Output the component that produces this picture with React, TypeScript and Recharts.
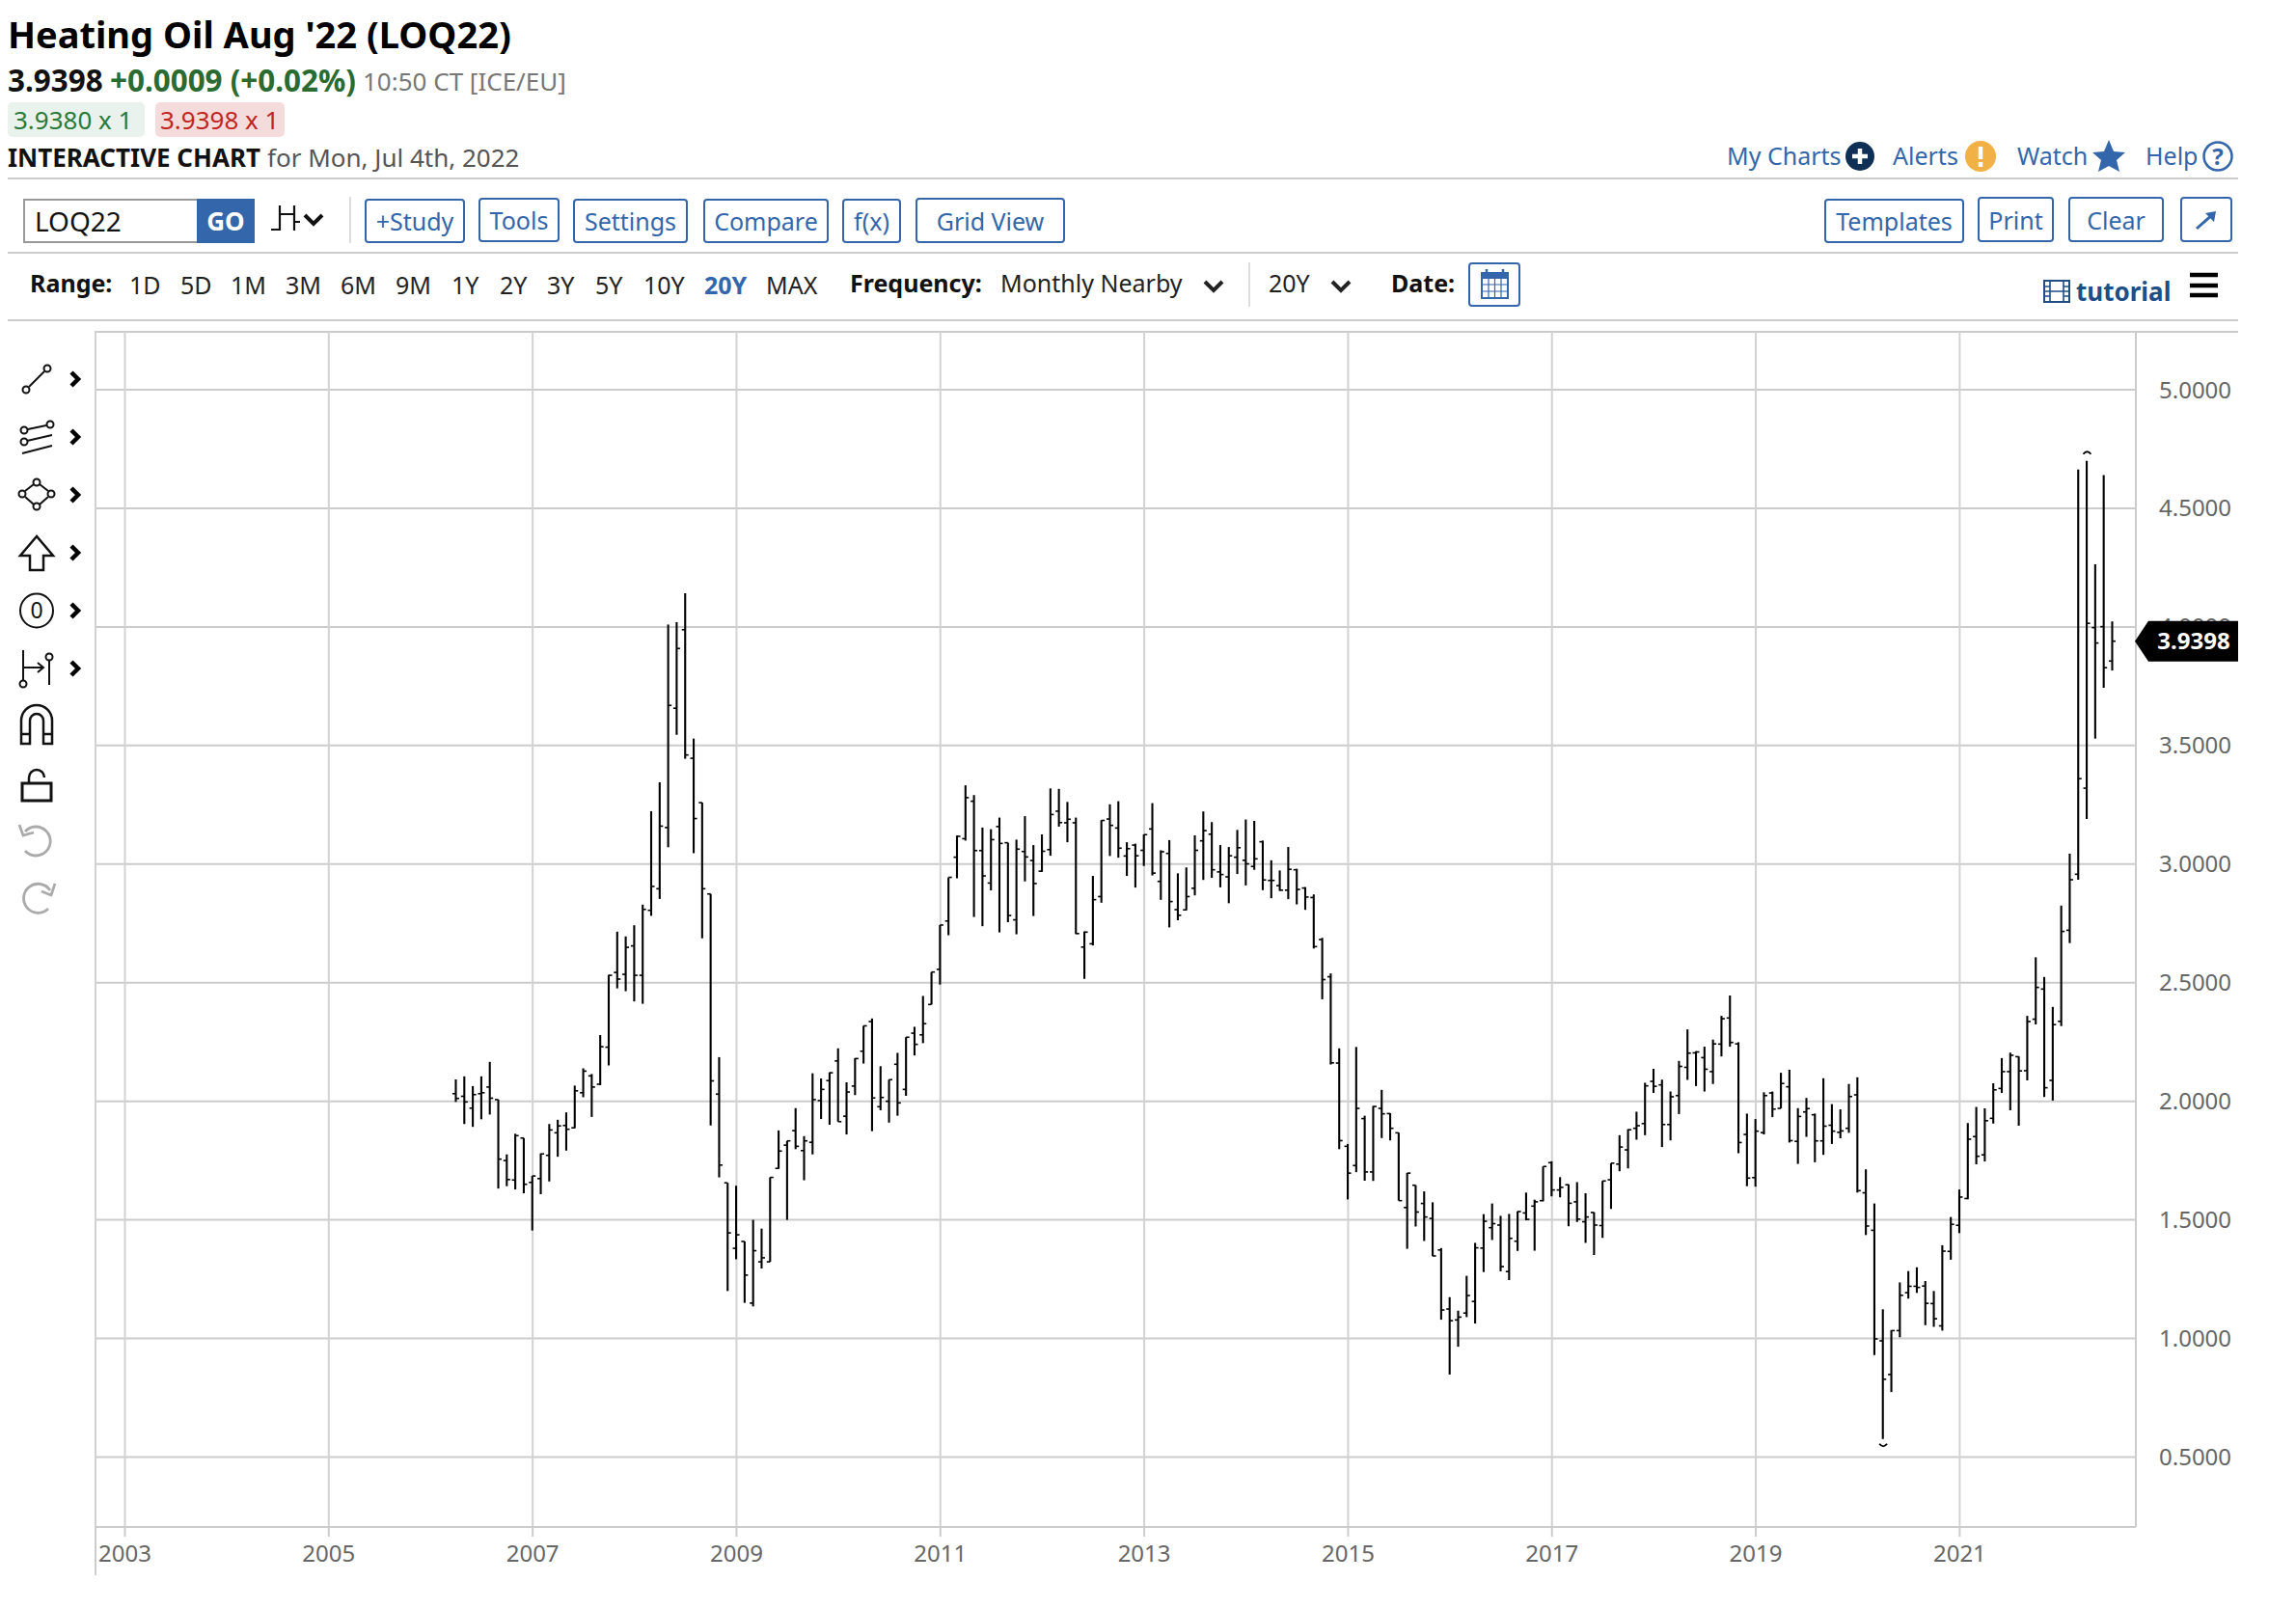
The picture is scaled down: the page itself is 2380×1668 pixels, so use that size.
import React from "react";
import { ComposedChart, Bar, XAxis, YAxis, CartesianGrid, ReferenceDot } from "recharts";

// Monthly bars, Apr 2006 .. Jul 2022. Month index counts from Jan 2003.
const firstMonthIndex = 39;
const opens = [
  2.032,2.021,1.971,2.032,2.060,2.007,1.750,1.668,1.845,
  1.658,1.674,1.772,1.867,1.898,1.888,2.036,2.107,2.072,2.228,2.543,2.535,
  2.655,2.531,2.805,2.896,3.154,3.657,3.988,3.446,3.259,2.874,2.030,1.656,
  1.380,1.409,1.149,1.323,1.323,1.717,1.815,1.876,1.792,1.827,2.003,2.087,
  2.170,1.937,2.064,2.211,2.336,1.977,2.000,2.156,2.050,2.287,2.280,2.408,
  2.556,2.760,3.029,3.107,3.265,3.057,2.920,3.158,3.090,2.765,3.053,3.015,
  2.970,3.061,3.223,3.174,3.174,2.650,2.664,2.863,3.190,3.152,3.034,3.080,
  3.058,3.148,2.927,3.045,2.808,2.807,2.898,3.098,3.126,2.967,2.946,3.029,
  3.016,2.990,3.094,2.931,2.909,2.890,2.976,2.899,2.859,2.682,2.525,2.161,
  1.810,1.729,1.927,1.702,1.970,1.948,1.867,1.552,1.646,1.569,1.506,1.373,
  1.124,1.078,1.107,1.156,1.381,1.467,1.478,1.282,1.410,1.529,1.558,1.581,
  1.741,1.626,1.648,1.576,1.492,1.531,1.476,1.669,1.735,1.795,1.886,1.906,
  2.084,2.069,1.902,2.024,2.143,2.204,2.184,2.125,2.241,2.351,2.242,1.860,
  1.678,1.868,2.035,1.970,2.061,1.831,1.955,1.943,1.833,1.899,1.869,1.886,
  2.027,1.614,1.456,0.990,0.848,1.033,1.193,1.220,1.221,1.147,1.053,1.367,
  1.477,1.590,1.851,1.774,1.928,2.054,2.125,2.188,2.129,2.346,2.473,2.088,
  2.337,2.721,2.957,3.320,3.997,4.001,3.856,
];
const highs = [
  2.092,2.105,2.064,2.105,2.166,2.007,1.776,1.863,1.845,
  1.685,1.780,1.904,1.922,1.953,2.066,2.139,2.115,2.279,2.533,2.715,2.695,
  2.742,2.829,3.223,3.345,4.010,4.020,4.142,3.529,3.259,2.874,2.186,1.656,
  1.644,1.409,1.500,1.463,1.679,1.877,1.833,1.971,1.853,2.118,2.096,2.122,
  2.223,2.080,2.182,2.318,2.349,2.148,2.091,2.204,2.270,2.314,2.444,2.545,
  2.743,2.944,3.120,3.332,3.291,3.154,3.147,3.196,3.090,3.103,3.202,3.080,
  3.125,3.319,3.317,3.262,3.196,2.716,2.950,3.185,3.252,3.265,3.092,3.086,
  3.125,3.257,3.058,3.101,2.961,2.986,3.121,3.222,3.177,3.080,3.072,3.144,
  3.188,3.182,3.099,3.016,2.973,3.072,2.980,2.903,2.872,2.689,2.539,2.223,
  1.820,2.229,1.939,1.980,2.048,1.950,1.868,1.698,1.646,1.620,1.574,1.381,
  1.174,1.117,1.264,1.403,1.524,1.569,1.517,1.525,1.536,1.615,1.585,1.725,
  1.747,1.680,1.650,1.659,1.612,1.532,1.664,1.739,1.857,1.882,1.956,2.078,
  2.137,2.091,2.041,2.170,2.303,2.211,2.230,2.260,2.360,2.446,2.249,1.948,
  1.925,2.038,2.041,2.120,2.133,1.971,2.014,1.948,2.097,1.988,1.966,2.073,
  2.101,1.713,1.569,1.123,1.035,1.236,1.284,1.300,1.242,1.200,1.393,1.512,
  1.628,1.908,1.976,1.970,2.076,2.182,2.205,2.189,2.360,2.607,2.524,2.398,
  2.825,3.044,4.663,4.700,4.264,4.640,4.023,
];
const lows = [
  1.997,1.904,1.892,1.924,1.944,1.632,1.642,1.628,1.612,
  1.455,1.608,1.662,1.766,1.792,1.886,2.017,1.934,2.068,2.151,2.476,2.464,
  2.421,2.411,2.782,2.853,3.071,3.545,3.444,3.046,2.687,1.898,1.679,1.200,
  1.334,1.150,1.135,1.295,1.323,1.715,1.500,1.798,1.667,1.776,1.925,1.901,
  1.914,1.860,2.026,2.159,1.874,1.962,1.910,1.939,2.023,2.193,2.245,2.408,
  2.492,2.700,2.940,3.099,2.777,2.738,2.889,2.712,2.755,2.704,2.927,2.781,
  2.967,3.035,3.158,3.092,2.705,2.516,2.657,2.837,3.034,3.027,2.950,2.901,
  2.992,2.952,2.849,2.733,2.763,2.805,2.868,2.933,2.942,2.902,2.835,2.958,
  2.910,2.976,2.890,2.856,2.887,2.852,2.830,2.807,2.644,2.430,2.155,1.798,
  1.586,1.701,1.665,1.664,1.845,1.835,1.581,1.378,1.472,1.411,1.347,1.079,
  0.848,0.965,1.090,1.063,1.280,1.415,1.283,1.246,1.369,1.498,1.370,1.578,
  1.599,1.595,1.473,1.491,1.403,1.352,1.424,1.546,1.705,1.717,1.838,1.857,
  2.035,1.807,1.835,1.946,2.090,2.064,2.041,2.073,2.189,2.230,1.781,1.642,
  1.640,1.860,1.933,1.970,1.826,1.736,1.850,1.743,1.774,1.820,1.844,1.867,
  1.615,1.436,0.930,0.576,0.774,1.005,1.168,1.192,1.056,1.049,1.033,1.332,
  1.444,1.587,1.734,1.746,1.906,2.035,1.962,1.897,2.088,2.324,2.018,2.003,
  2.317,2.667,2.934,3.190,3.529,3.743,3.816,
];
const closes = [
  2.012,1.997,2.028,2.036,2.013,1.756,1.670,1.855,1.650,
  1.685,1.778,1.879,1.896,1.882,2.044,2.127,2.060,2.230,2.531,2.515,2.649,
  2.531,2.809,2.906,3.160,3.669,3.909,3.460,3.192,2.896,2.086,1.731,1.445,
  1.437,1.267,1.370,1.340,1.679,1.790,1.833,1.810,1.833,2.007,2.050,2.120,
  1.914,2.039,2.180,2.318,2.014,2.016,2.091,1.993,2.270,2.240,2.327,2.545,
  2.743,2.944,3.117,3.280,3.057,2.950,3.103,3.087,2.783,3.063,3.030,2.918,
  3.054,3.209,3.175,3.189,2.707,2.713,2.850,3.184,3.163,3.067,3.065,3.035,
  3.124,2.962,3.052,2.842,2.784,2.863,3.058,3.141,2.976,2.956,3.035,3.069,
  3.001,3.022,2.933,2.931,2.890,2.978,2.893,2.861,2.652,2.513,2.162,1.834,
  1.697,1.970,1.702,1.978,1.947,1.886,1.581,1.697,1.533,1.512,1.348,1.120,
  1.075,1.090,1.181,1.382,1.494,1.484,1.303,1.422,1.535,1.502,1.576,1.725,
  1.626,1.637,1.570,1.503,1.512,1.478,1.664,1.739,1.807,1.880,1.897,2.065,
  2.063,1.902,2.019,2.147,2.203,2.208,2.135,2.242,2.348,2.248,1.826,1.676,
  1.874,2.024,1.967,2.075,1.834,1.936,1.969,1.833,1.895,1.874,1.875,2.020,
  1.623,1.474,0.998,0.828,1.033,1.182,1.220,1.215,1.148,1.083,1.368,1.481,
  1.596,1.840,1.768,1.918,2.048,2.125,2.194,2.128,2.336,2.480,2.057,2.323,
  2.716,2.934,3.360,4.015,3.932,3.828,3.9398,
];
const yearLabels = [2003,2005,2007,2009,2011,2013,2015,2017,2019,2021];
const priceTicks = [0.5,1,1.5,2,2.5,3,3.5,4,4.5,5];
const lastPrice = 3.9398;
const rangeItems = ["1D","5D","1M","3M","6M","9M","1Y","2Y","3Y","5Y","10Y","20Y","MAX"];
const highMonth = 231;
const lowMonth = 207;
const xDomain = [-3.464, 236.74];
const yDomain = [0.205, 5.244];

const bars = opens.map((o, i) => ({
  m: firstMonthIndex + i,
  o,
  h: highs[i],
  l: lows[i],
  c: closes[i],
  range: [lows[i], highs[i]],
}));

const FONT = "'Noto Sans', sans-serif";
const BLUE = "#3366aa";
const LINE = "#cccccc";

function OhlcBar(props: any) {
  const { x, y, width, height, payload } = props;
  const cx = x + width / 2;
  const span = payload.h - payload.l;
  const yOf = (v: number) => (span > 0 ? y + ((payload.h - v) / span) * height : y);
  const yo = yOf(payload.o);
  const yc = yOf(payload.c);
  return (
    <g>
      <line x1={cx} x2={cx} y1={y} y2={y + height} stroke="#000" strokeWidth={2.1} />
      <line x1={cx - 3.5} x2={cx} y1={yo} y2={yo} stroke="#000" strokeWidth={1.6} />
      <line x1={cx} x2={cx + 3.5} y1={yc} y2={yc} stroke="#000" strokeWidth={1.6} />
    </g>
  );
}

function PriceTag(props: any) {
  const { cy } = props;
  const left = 2213;
  return (
    <g>
      <polygon
        points={`${left},${cy} ${left + 14},${cy - 21} ${left + 107},${cy - 21} ${left + 107},${cy + 21} ${left + 14},${cy + 21}`}
        fill="#000"
      />
      <text x={left + 61} y={cy + 8} textAnchor="middle" fontFamily={FONT} fontWeight={700} fontSize={24} fill="#fff">
        {lastPrice.toFixed(4)}
      </text>
    </g>
  );
}

const HighMark = (props: any) => (
  <path d={`M${props.cx - 4},${props.cy - 7} Q${props.cx},${props.cy - 12} ${props.cx + 4},${props.cy - 7}`} fill="none" stroke="#000" strokeWidth={1.8} />
);
const LowMark = (props: any) => (
  <path d={`M${props.cx - 4},${props.cy + 5} Q${props.cx},${props.cy + 10} ${props.cx + 4},${props.cy + 5}`} fill="none" stroke="#000" strokeWidth={1.8} />
);

function T({ x, y, children, size = 25, color = "#111", bold = false, style = {} }: any) {
  return (
    <div
      style={{
        position: "absolute",
        left: x,
        top: y,
        transform: "translateY(-50%)",
        fontFamily: FONT,
        fontSize: size,
        lineHeight: 1,
        color,
        fontWeight: bold ? 700 : 400,
        whiteSpace: "nowrap",
        ...style,
      }}
    >
      {children}
    </div>
  );
}

function Btn({ x, x2, y = 206, y2 = 252, label }: any) {
  return (
    <div
      style={{
        position: "absolute",
        left: x,
        top: y,
        width: x2 - x,
        height: y2 - y,
        boxSizing: "border-box",
        border: `2px solid ${BLUE}`,
        borderRadius: 4,
        color: BLUE,
        fontFamily: FONT,
        fontSize: 25,
        lineHeight: `${y2 - y - 3}px`,
        textAlign: "center",
        whiteSpace: "nowrap",
      }}
    >
      {label}
    </div>
  );
}

const Rule = ({ y, x = 8, x2 = 2320 }: any) => (
  <div style={{ position: "absolute", left: x, top: y - 1, width: x2 - x, height: 2, background: LINE }} />
);

function Chevron({ cx, cy, color = "#111" }: any) {
  return (
    <svg style={{ position: "absolute", left: cx - 10, top: cy - 8, overflow: "visible" }} width={20} height={16}>
      <path d="M1,3 L10,12 L19,3" fill="none" stroke={color} strokeWidth={4} />
    </svg>
  );
}

function SideTools() {
  const k = { fill: "none", stroke: "#111", strokeWidth: 2 };
  const chev = (y: number) => <path d={`M74,${y - 7} L81,${y} L74,${y + 7}`} fill="none" stroke="#000" strokeWidth={4.5} />;
  return (
    <svg style={{ position: "absolute", left: 0, top: 340 }} width={98} height={620}>
      <g {...k}>
        <circle cx={27} cy={64} r={3.5} /><circle cx={49} cy={42} r={3.5} /><path d="M30,61 L46,45" />
      </g>
      {chev(53)}
      <g {...k}>
        <circle cx={25} cy={106} r={3.5} /><circle cx={25} cy={118} r={3.5} /><circle cx={52} cy={100} r={3.5} />
        <path d="M29,105 L48,101 M28,117 L54,111 M23,130 L54,122" />
      </g>
      {chev(113)}
      <g {...k}>
        <circle cx={38} cy={160} r={3.5} /><circle cx={23} cy={172} r={3.5} /><circle cx={53} cy={172} r={3.5} /><circle cx={38} cy={185} r={3.5} />
        <path d="M26,169 L35,162 M41,162 L50,169 M26,175 L35,183 M41,183 L50,175" />
      </g>
      {chev(173)}
      <path d="M38,216 L21,236 L31,236 L31,251 L45,251 L45,236 L55,236 Z" {...k} strokeWidth={2.5} />
      {chev(233)}
      <ellipse cx={38} cy={293} rx={17} ry={17.5} {...k} />
      <text x={38} y={301} textAnchor="middle" fontFamily={FONT} fontSize={23} fill="#111">0</text>
      {chev(293)}
      <g {...k}>
        <path d="M24,334 L24,366 M24,352 L44,352 M39,347 L45,352 L39,357 M51,345 L51,370" />
        <circle cx={24} cy={369} r={3.5} /><circle cx={51} cy={341} r={3.5} />
      </g>
      {chev(353)}
      <path d="M22,431 L22,407 A16,16 0 0 1 54,407 L54,431 L45,431 L45,407 A7,7 0 0 0 31,407 L31,431 Z M22,421 L31,421 M45,421 L54,421" {...k} strokeWidth={2.5} />
      <path d="M23,472 L53,472 L53,490 L23,490 Z" {...k} strokeWidth={3} />
      <path d="M30,472 L30,466 A8,8 0 0 1 46,466" {...k} strokeWidth={2.5} />
      <g fill="none" stroke="#aaa" strokeWidth={2.8}>
        <path d="M26,522 A15,15 0 1 1 26,542" /><path d="M20,515 L24,526 L35,523" />
        <path d="M52,583 A15,15 0 1 0 50,602" /><path d="M57,576 L53,588 L43,584" />
      </g>
    </svg>
  );
}

function TopIcons() {
  return (
    <svg style={{ position: "absolute", left: 0, top: 0 }} width={2380} height={340}>
      {/* bar-type selector */}
      <path d="M290,213 L290,239 M281,238 L290,238 M290,222 L297,222 M305,213 L305,239 M297,222 L305,222 M305,230 L311,230" stroke="#111" strokeWidth={2.2} fill="none" />
      <circle cx={1928} cy={162} r={15} fill="#0f2f55" />
      <path d="M1928,154 L1928,170 M1920,162 L1936,162" stroke="#fff" strokeWidth={4.5} />
      <circle cx={2053} cy={162} r={16} fill="#f2b144" />
      <path d="M2053,152 L2053,165 M2053,168 L2053,173" stroke="#fff" strokeWidth={4.5} />
      <polygon points="2186,145 2191,157 2203,158 2194,166 2197,178 2186,172 2175,178 2178,166 2169,158 2181,157" fill={BLUE} />
      <circle cx={2299} cy={162} r={14.5} fill="none" stroke={BLUE} strokeWidth={2.5} />
      <text x={2299} y={171} textAnchor="middle" fontFamily={FONT} fontSize={24} fontWeight={700} fill={BLUE}>?</text>
      <path d="M2277,237 L2294,222" stroke={BLUE} strokeWidth={3} fill="none" />
      <polygon points="2297,219 2286,221 2295,230" fill={BLUE} />
      {/* calendar */}
      <rect x={1536} y={283} width={27} height={26} fill="#fff" stroke={BLUE} strokeWidth={2} />
      <rect x={1536} y={283} width={27} height={6} fill={BLUE} />
      <path d="M1541,279 L1541,285 M1558,279 L1558,285" stroke={BLUE} strokeWidth={2.5} />
      <path d="M1536,295 L1563,295 M1536,302 L1563,302 M1543,289 L1543,309 M1549.5,289 L1549.5,309 M1556,289 L1556,309" stroke={BLUE} strokeWidth={1.2} />
      {/* film */}
      <rect x={2119} y={291} width={26} height={22} fill="none" stroke="#1f4e85" strokeWidth={2} />
      <path d="M2125,291 L2125,313 M2139,291 L2139,313 M2125,302 L2139,302 M2119,297 L2125,297 M2119,302 L2125,302 M2119,307 L2125,307 M2139,297 L2145,297 M2139,302 L2145,302 M2139,307 L2145,307" stroke="#1f4e85" strokeWidth={1.6} />
      {/* menu */}
      <path d="M2270,285 L2299,285 M2270,296 L2299,296 M2270,306 L2299,306" stroke="#000" strokeWidth={4.5} />
    </svg>
  );
}

const rangeLefts = [134,187,239,296,353,410,468,518,567,617,667,730,794];

export default function App() {
  return (
    <div style={{ position: "absolute", left: 0, top: 0, width: 2380, height: 1668, background: "#fff", overflow: "hidden" }}>
      <T x={8} y={35} size={38} bold color="#000">Heating Oil Aug '22 (LOQ22)</T>
      <T x={8} y={83} size={31.4} bold color="#111">3.9398</T>
      <T x={114} y={83} size={31.4} bold color="#2a6b33">+0.0009 (+0.02%)</T>
      <T x={376} y={84} size={26} color="#777">10:50 CT [ICE/EU]</T>
      <div style={{ position: "absolute", left: 8, top: 106, width: 142, height: 36, background: "#e9f2ec", borderRadius: 5 }} />
      <div style={{ position: "absolute", left: 161, top: 106, width: 134, height: 36, background: "#f5dcdc", borderRadius: 5 }} />
      <T x={14} y={124} size={26} color="#2a7a38">3.9380 x 1</T>
      <T x={166} y={124} size={26} color="#c0261f">3.9398 x 1</T>
      <T x={8} y={163} size={26} bold color="#111">INTERACTIVE CHART</T>
      <T x={277} y={163} size={26} color="#555">for Mon, Jul 4th, 2022</T>

      <T x={1790} y={161} color={BLUE}>My Charts</T>
      <T x={1962} y={161} color={BLUE}>Alerts</T>
      <T x={2091} y={161} color={BLUE}>Watch</T>
      <T x={2224} y={161} color={BLUE}>Help</T>

      <Rule y={185} />
      <Rule y={262} />
      <Rule y={332} />
      <Rule y={344} x={98} />

      <div style={{ position: "absolute", left: 24, top: 206, width: 180, height: 46, boxSizing: "border-box", border: "2px solid #999", borderRight: "none" }} />
      <T x={36} y={229} size={28} color="#111">LOQ22</T>
      <div style={{ position: "absolute", left: 204, top: 206, width: 60, height: 46, background: BLUE, color: "#fff", fontFamily: FONT, fontWeight: 700, fontSize: 26, lineHeight: "46px", textAlign: "center" }}>GO</div>
      <Chevron cx={325} cy={228} />
      <div style={{ position: "absolute", left: 362, top: 204, width: 2, height: 48, background: "#ddd" }} />
      <Btn x={378} x2={482} label="+Study" />
      <Btn x={496} x2={580} y={205} y2={251} label="Tools" />
      <Btn x={594} x2={713} label="Settings" />
      <Btn x={729} x2={859} label="Compare" />
      <Btn x={873} x2={934} label="f(x)" />
      <Btn x={949} x2={1104} y={205} y2={252} label="Grid View" />
      <Btn x={1891} x2={2036} label="Templates" />
      <Btn x={2050} x2={2129} y={204} y2={251} label="Print" />
      <Btn x={2144} x2={2243} y={204} y2={251} label="Clear" />
      <Btn x={2260} x2={2314} y={204} y2={251} label="" />

      <T x={31} y={293} bold color="#111">Range:</T>
      {rangeItems.map((r, i) => (
        <T key={r} x={rangeLefts[i]} y={295} bold={r === "20Y"} color={r === "20Y" ? BLUE : "#222"}>{r}</T>
      ))}
      <T x={881} y={293} bold color="#111">Frequency:</T>
      <T x={1037} y={293} color="#222">Monthly Nearby</T>
      <Chevron cx={1258} cy={297} color="#222" />
      <div style={{ position: "absolute", left: 1294, top: 272, width: 2, height: 46, background: "#ddd" }} />
      <T x={1315} y={293} color="#222">20Y</T>
      <Chevron cx={1390} cy={297} color="#222" />
      <T x={1442} y={293} bold color="#111">Date:</T>
      <div style={{ position: "absolute", left: 1522, top: 272, width: 54, height: 46, boxSizing: "border-box", border: `2px solid ${BLUE}`, borderRadius: 4 }} />
      <T x={2152} y={302} size={26} bold color="#1f4e85">tutorial</T>

      <TopIcons />
      <SideTools />

      <div style={{ position: "absolute", left: 98, top: 344, width: 2, height: 1289, background: LINE }} />

      <div style={{ position: "absolute", left: 0, top: 0 }}>
        <ComposedChart
          width={2380}
          height={1668}
          data={bars}
          margin={{ left: 99, top: 344, right: 0, bottom: 35 }}
        >
          <CartesianGrid horizontal={true} vertical={false} stroke={LINE} strokeWidth={2} />
          <CartesianGrid horizontal={false} vertical={true} stroke="#d2d2d2" strokeWidth={2} />
          <XAxis
            dataKey="m"
            type="number"
            domain={xDomain}
            allowDataOverflow
            ticks={yearLabels.map((y) => (y - 2003) * 12)}
            tickFormatter={(v: number) => String(2003 + v / 12)}
            height={50}
            interval={0}
            axisLine={{ stroke: LINE, strokeWidth: 2 }}
            tickLine={{ stroke: LINE, strokeWidth: 2 }}
            tickSize={10}
            tickMargin={9}
            tick={{ fill: "#666", fontSize: 24, fontFamily: FONT }}
          />
          <YAxis
            orientation="right"
            type="number"
            domain={yDomain}
            allowDataOverflow
            ticks={priceTicks}
            tickFormatter={(v: number) => v.toFixed(4)}
            width={166}
            interval={0}
            axisLine={{ stroke: LINE, strokeWidth: 2 }}
            tickLine={false}
            tickSize={6}
            tickMargin={18}
            tick={{ fill: "#666", fontSize: 24, fontFamily: FONT, textAnchor: "start" }}
          />
          <Bar dataKey="range" barSize={2} shape={OhlcBar} isAnimationActive={false} />
          <ReferenceDot x={highMonth} y={highs[highMonth - firstMonthIndex]} ifOverflow="visible" shape={HighMark} />
          <ReferenceDot x={lowMonth} y={lows[lowMonth - firstMonthIndex]} ifOverflow="visible" shape={LowMark} />
        </ComposedChart>
      </div>

      {/* Second layer with the same scales, so the price tag covers the axis labels */}
      <div style={{ position: "absolute", left: 0, top: 0, pointerEvents: "none" }}>
        <ComposedChart
          width={2380}
          height={1668}
          data={bars}
          margin={{ left: 99, top: 344, right: 166, bottom: 85 }}
          style={{ background: "transparent" }}
        >
          <XAxis dataKey="m" type="number" domain={xDomain} allowDataOverflow hide />
          <YAxis type="number" domain={yDomain} allowDataOverflow hide />
          <ReferenceDot x={xDomain[1]} y={lastPrice} ifOverflow="visible" shape={PriceTag} />
        </ComposedChart>
      </div>
    </div>
  );
}
